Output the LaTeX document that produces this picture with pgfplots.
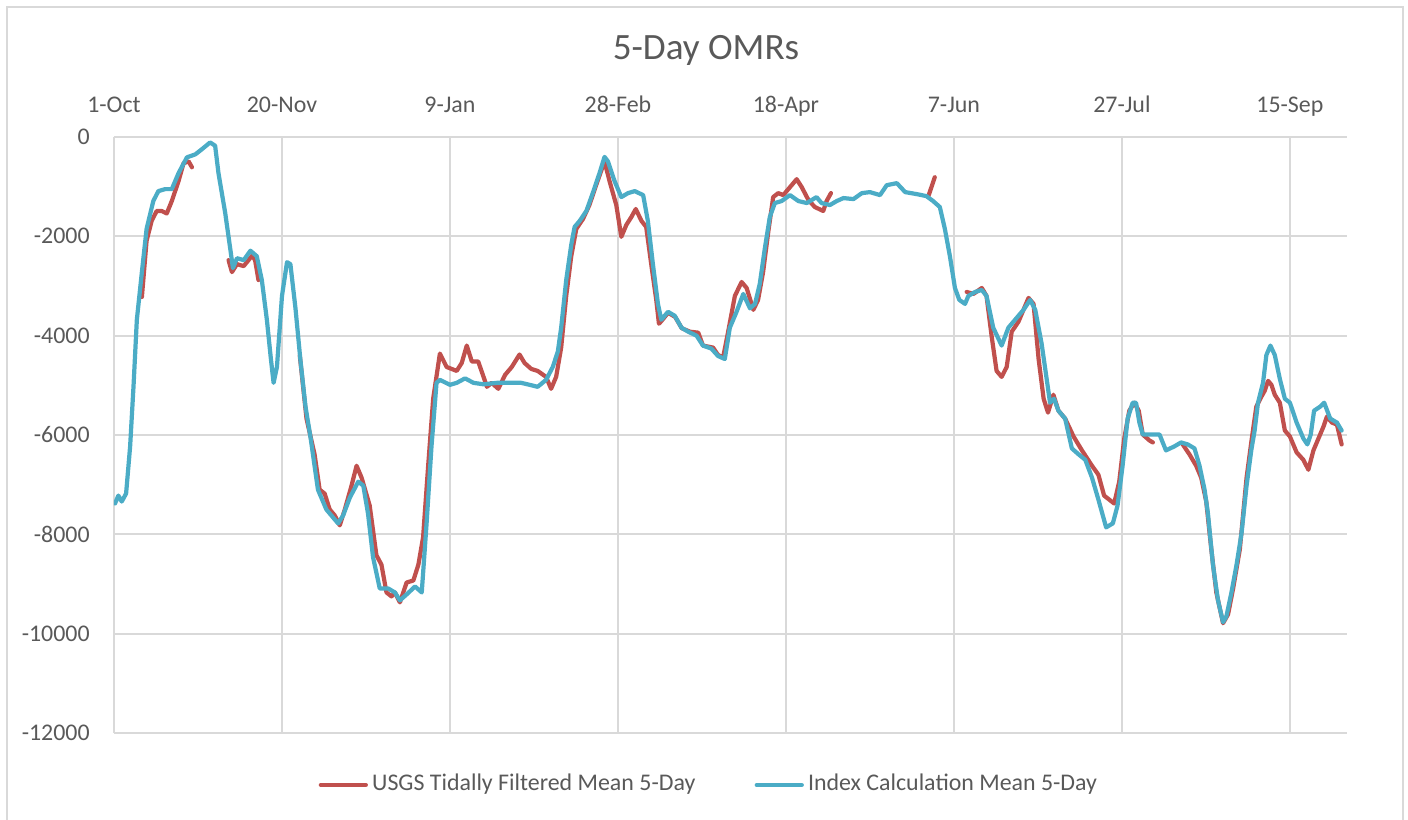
\documentclass[border=0pt]{standalone}
\usepackage{pgfplots}
\pgfplotsset{compat=1.18}
\usepackage{fontspec}
\setmainfont{Carlito}
\definecolor{usgsred}{RGB}{192,80,77}
\definecolor{idxblue}{RGB}{75,172,198}
\definecolor{gridgray}{RGB}{217,217,217}
\definecolor{labelgray}{RGB}{89,89,89}
\begin{document}
\begin{tikzpicture}
\useasboundingbox (0,0) rectangle (14.08cm,8.2cm);
\draw[gridgray, line width=0.5pt] (0.07cm,-0.2cm) -- (0.07cm,8.13cm) -- (14.03cm,8.13cm) -- (14.03cm,-0.2cm);
\node[font=\fontsize{10.57}{12}\selectfont, text=labelgray] at (7.06cm,7.70cm) {5-Day OMRs};
\begin{axis}[
  at={(1.14cm,0.87cm)}, anchor=south west,
  scale only axis, width=12.33cm, height=5.96cm,
  xmin=0, xmax=367, ymin=-12000, ymax=0,
  axis x line*=top, axis y line*=left,
  axis line style={draw=gridgray, line width=0.5pt, -},
  xtick={0,50,...,350},
  xticklabels={1-Oct,20-Nov,9-Jan,28-Feb,18-Apr,7-Jun,27-Jul,15-Sep},
  ytick={-12000,-10000,...,0},
  yticklabels={-12000,-10000,-8000,-6000,-4000,-2000,0},
  scaled y ticks=false, scaled x ticks=false,
  grid=major, major grid style={draw=gridgray, line width=0.5pt},
  major tick length=0pt,
  tick label style={font=\fontsize{6.8}{8}\selectfont, text=labelgray},
  xticklabel style={anchor=base, yshift=7.1pt},
  yticklabel style={xshift=-3.4pt},
  unbounded coords=jump,
  legend columns=2,
  legend style={at={(0.4834,-0.0872)}, anchor=center, draw=none, fill=none,
    font=\fontsize{6.8}{8}\selectfont, text=labelgray,
    nodes={inner sep=1.2pt}},
  legend image code/.code={\draw[#1] (0cm,0cm) -- (0.45cm,0cm);},
]
\addplot[usgsred, line width=1.2pt, line join=round, line cap=round] table[row sep=\\] {
x y\\
8.3 -3220\\ 9.7 -2090\\ 11.2 -1690\\ 12.7 -1490\\ 14.2 -1490\\ 15.7 -1540\\ 17.2 -1290\\ 19.2 -890\\ 20.7 -530\\ 22.2 -490\\ 23.2 -610\\
28 nan\\
34.1 -2480\\ 35.1 -2720\\ 36.6 -2560\\ 38.6 -2600\\ 41.1 -2390\\ 42.0 -2480\\ 43.0 -2880\\
50 nan\\
55.3 -4400\\ 57.3 -5670\\ 59.7 -6390\\ 61.2 -7100\\ 62.7 -7180\\ 64.2 -7500\\ 65.7 -7620\\ 67.2 -7820\\ 68.7 -7500\\ 70.7 -7020\\
72.2 -6620\\ 73.7 -6860\\ 76.1 -7420\\ 78.1 -8420\\ 79.6 -8610\\ 81.1 -9170\\ 82.6 -9250\\ 83.6 -9170\\ 85.1 -9370\\ 87.1 -8970\\
89.1 -8930\\ 90.6 -8610\\ 92.0 -8060\\ 93.5 -6630\\ 95.0 -5270\\ 97.0 -4360\\ 99.0 -4630\\ 102 -4710\\ 103.5 -4550\\ 105 -4200\\
106.5 -4520\\ 108.4 -4520\\ 110 -4830\\ 111 -5030\\ 112.4 -4950\\ 114.4 -5070\\ 116.4 -4790\\ 118.4 -4630\\ 120.7 -4380\\ 122.2 -4550\\
124.2 -4670\\ 126.1 -4710\\ 128.6 -4830\\ 130.1 -5070\\ 131.6 -4830\\ 133.1 -4240\\ 134.6 -3200\\ 136.1 -2400\\ 137.6 -1850\\ 139.6 -1650\\
141.5 -1370\\ 143.5 -970\\ 146.0 -490\\ 147.5 -890\\ 149.5 -1370\\ 151.0 -2010\\ 152.5 -1770\\ 154.0 -1610\\ 155.3 -1450\\ 157.0 -1690\\
158.4 -1810\\ 159.9 -2560\\ 161.4 -3280\\ 162.2 -3760\\ 163.0 -3700\\ 164.9 -3540\\ 167 -3620\\ 169 -3850\\ 171.4 -3920\\ 173.9 -3940\\
175.3 -4200\\ 178.3 -4240\\ 179.8 -4390\\ 181.3 -4440\\ 182.8 -3920\\ 184.8 -3200\\ 186.8 -2920\\ 188.3 -3040\\ 190.3 -3480\\ 191.7 -3280\\
193.2 -2720\\ 194.7 -1930\\ 196.2 -1210\\ 197.7 -1130\\ 199.2 -1170\\ 201.2 -1010\\ 203.2 -850\\ 204.7 -1010\\ 206.7 -1270\\ 208.6 -1410\\
211.1 -1490\\ 212.1 -1290\\ 213.4 -1130\\
230 nan\\
242.3 -1210\\ 244.3 -810\\
250 nan\\
253.8 -3120\\ 255.8 -3160\\ 258.3 -3040\\ 259.7 -3200\\ 261.2 -4000\\ 262.7 -4710\\ 264.2 -4830\\ 265.7 -4630\\ 267.2 -3920\\ 269.2 -3720\\
270.7 -3480\\ 272.2 -3240\\ 273.7 -3360\\ 275.2 -4470\\ 276.7 -5270\\ 278.0 -5550\\ 279.6 -5190\\ 281.1 -5510\\ 283.1 -5670\\ 285.6 -6030\\
288.1 -6310\\ 291.1 -6620\\ 293.0 -6800\\ 294.7 -7220\\ 296.2 -7300\\ 297.7 -7380\\ 299.2 -6940\\ 300.7 -6070\\ 302.2 -5510\\ 303.7 -5350\\
305.0 -5510\\ 306.2 -5990\\ 308.2 -6110\\ 309.2 -6150\\
314 nan\\
318.1 -6190\\ 320.1 -6390\\ 322.1 -6620\\ 323.6 -6860\\ 325.1 -7340\\ 326.6 -8300\\ 328.1 -9170\\ 330.1 -9790\\ 331.6 -9610\\ 333.1 -9090\\
335.1 -8300\\ 337.1 -6860\\ 338.5 -6150\\ 340.0 -5430\\ 341.5 -5230\\ 342.5 -5110\\ 343.5 -4910\\ 344.5 -4990\\ 345.5 -5190\\ 347.0 -5350\\
348.5 -5910\\ 350.0 -6030\\ 352.0 -6350\\ 354.0 -6500\\ 355.5 -6700\\ 357.0 -6310\\ 358.5 -6070\\ 360.0 -5830\\ 361.0 -5630\\ 362.5 -5750\\
364.0 -5790\\ 365.4 -6190\\
};
\addlegendentry{USGS Tidally Filtered Mean 5-Day\hspace*{0.55cm}}
\addplot[idxblue, line width=1.2pt, line join=round, line cap=round] table[row sep=\\] {
x y\\
0.3 -7380\\ 1.3 -7220\\ 2.3 -7340\\ 3.6 -7180\\ 4.8 -6230\\ 5.8 -5030\\ 6.8 -3680\\ 8.3 -2720\\ 9.7 -1850\\ 11.7 -1290\\
13.2 -1090\\ 15.2 -1050\\ 17.2 -1050\\ 19.2 -730\\ 21.7 -410\\ 24.2 -350\\ 26.1 -250\\ 28.6 -110\\ 30.1 -175\\ 31.1 -730\\
33.1 -1530\\ 34.6 -2250\\ 35.4 -2640\\ 36.6 -2440\\ 38.6 -2480\\ 40.6 -2290\\ 42.5 -2400\\ 44.0 -2880\\ 45.5 -3680\\ 46.7 -4470\\
47.5 -4950\\ 48.5 -4630\\ 50.0 -3200\\ 51.5 -2520\\ 52.5 -2560\\ 54.0 -3440\\ 55.5 -4500\\ 57.0 -5430\\ 58.5 -6050\\ 60.7 -7100\\
63.2 -7500\\ 65.2 -7660\\ 66.7 -7780\\ 68.2 -7620\\ 70.2 -7260\\ 72.7 -6940\\ 74.2 -7020\\ 75.6 -7580\\ 77.1 -8460\\ 79.1 -9090\\
81.6 -9090\\ 83.6 -9170\\ 85.1 -9330\\ 87.1 -9210\\ 89.6 -9050\\ 91.6 -9170\\ 93.0 -7820\\ 94.5 -6230\\ 96.0 -4950\\ 97.0 -4890\\
100 -4990\\ 102 -4950\\ 104.5 -4860\\ 107 -4950\\ 110 -4980\\ 114 -4950\\ 117.7 -4950\\ 121.2 -4950\\ 123.7 -4990\\ 126.1 -5030\\
128.6 -4890\\ 130.6 -4630\\ 132.1 -4320\\ 133.1 -3840\\ 134.6 -2880\\ 136.1 -2170\\ 137.1 -1810\\ 138.6 -1690\\ 140.6 -1490\\ 142.5 -1130\\
144.5 -730\\ 146.0 -400\\ 147.0 -490\\ 149.0 -890\\ 151.0 -1210\\ 153.0 -1130\\ 155.0 -1090\\ 157.5 -1170\\ 158.9 -1690\\ 160.4 -2560\\
161.9 -3360\\ 162.9 -3680\\ 164.9 -3520\\ 166.9 -3600\\ 168.9 -3840\\ 170.9 -3920\\ 173.4 -4000\\ 175.3 -4200\\ 177.8 -4260\\ 179.8 -4410\\
181.8 -4470\\ 183.3 -3840\\ 185.3 -3520\\ 187.3 -3160\\ 189.3 -3450\\ 190.8 -3360\\ 192.2 -2960\\ 193.7 -2250\\ 195.2 -1610\\ 196.7 -1330\\
198.7 -1290\\ 201.2 -1170\\ 203.7 -1290\\ 206.2 -1330\\ 209.1 -1210\\ 210.6 -1330\\ 213.1 -1370\\ 215.1 -1290\\ 217.1 -1230\\ 220.1 -1250\\
222.6 -1130\\ 225.0 -1110\\ 228.0 -1170\\ 230.0 -970\\ 233.0 -930\\ 235.5 -1110\\ 238.9 -1150\\ 241.8 -1190\\ 243.8 -1290\\ 245.8 -1410\\
247.3 -1850\\ 248.8 -2400\\ 250.3 -3040\\ 251.6 -3280\\ 253.3 -3360\\ 254.3 -3200\\ 256.3 -3120\\ 258.3 -3080\\ 259.7 -3200\\ 261.7 -3840\\
264.2 -4200\\ 266.2 -3840\\ 268.2 -3680\\ 270.7 -3480\\ 272.7 -3280\\ 274.2 -3480\\ 276.1 -4160\\ 277.6 -4870\\ 278.6 -5350\\ 279.8 -5270\\
281.1 -5510\\ 283.1 -5670\\ 285.1 -6270\\ 287.1 -6390\\ 289.1 -6500\\ 291.1 -6860\\ 293.0 -7300\\ 295.3 -7860\\ 297.3 -7780\\ 298.7 -7420\\
300.2 -6620\\ 301.7 -5670\\ 303.2 -5350\\ 304.2 -5350\\ 305.2 -5750\\ 306.2 -5990\\ 307.7 -5990\\ 309.2 -5990\\ 311.2 -5990\\ 313.1 -6310\\
315.6 -6230\\ 317.6 -6150\\ 319.6 -6190\\ 321.6 -6270\\ 323.1 -6620\\ 324.6 -7100\\ 325.6 -7580\\ 327.1 -8620\\ 328.6 -9330\\ 330.1 -9770\\
331.1 -9650\\ 332.6 -9170\\ 334.1 -8620\\ 335.6 -7980\\ 337.1 -7020\\ 338.5 -6310\\ 339.5 -5910\\ 340.5 -5350\\ 342.0 -4950\\ 343.0 -4390\\
344.2 -4200\\ 345.5 -4390\\ 347.0 -4870\\ 348.5 -5270\\ 350.0 -5350\\ 352.0 -5750\\ 354.0 -6070\\ 355.2 -6190\\ 356.2 -5990\\ 357.2 -5510\\
359.0 -5430\\ 360.2 -5350\\ 362.0 -5670\\ 364.0 -5750\\ 365.4 -5910\\
};
\addlegendentry{Index Calculation Mean 5-Day}
\end{axis}
\end{tikzpicture}
\end{document}
